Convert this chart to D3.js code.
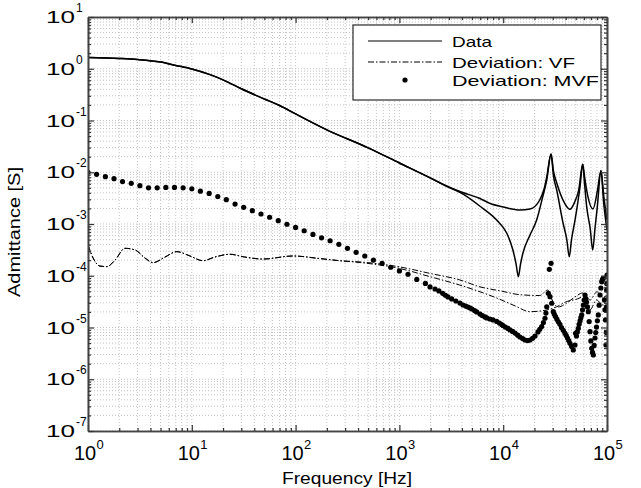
<!DOCTYPE html>
<html>
<head>
<meta charset="utf-8">
<script src="https://cdn.jsdelivr.net/npm/d3@7"></script>
<style>
body { margin: 0; background: #fff; }
text { font-family: "Liberation Sans", Arial, sans-serif; fill: #000; }
</style>
</head>
<body>
<div id="chart"></div>
<script>
// Data curves [frequency Hz, admittance S]
const dataA = [[1,1.65],[2,1.58],[3,1.51],[5,1.35],[7,1.16],[10,0.99],[15,0.77],[20,0.61],[30,0.41],[50,0.26],[70,0.195],[100,0.134],[200,0.066],[500,0.0296],[1000,0.0151],[2000,0.0077],[3000,0.0052],[4000,0.0041],[5980,0.00311],[7400,0.00251],[10500,0.00208],[14500,0.00187],[18100,0.00195],[22500,0.00291],[24800,0.0048],[26300,0.0082],[28900,0.0225],[30500,0.0105],[32800,0.0062],[37700,0.0029],[44000,0.00192],[49000,0.0027],[53400,0.0045],[58300,0.0143],[61000,0.0078],[63700,0.0045],[73300,0.00195],[81000,0.0045],[87500,0.0107],[93000,0.0035],[100000,0.00119]];
const dataB = [[1,1.65],[2,1.58],[3,1.51],[5,1.35],[7,1.16],[10,0.99],[15,0.77],[20,0.61],[30,0.41],[50,0.26],[70,0.195],[100,0.134],[200,0.066],[500,0.0296],[1000,0.0151],[2000,0.0077],[3000,0.0051],[4000,0.0039],[5980,0.0022],[8650,0.00119],[10800,0.00067],[12400,0.000315],[13300,0.00017],[14000,0.000096],[14700,0.00017],[15500,0.000275],[18100,0.00061],[21000,0.00119],[23600,0.0029],[26300,0.0071],[28900,0.0225],[30500,0.0085],[32800,0.0045],[37700,0.00105],[41000,0.0005],[43300,0.000233],[45500,0.0005],[49200,0.00119],[55000,0.0053],[58300,0.0143],[61000,0.0055],[63700,0.00216],[69000,0.0008],[72800,0.000315],[76500,0.0008],[80700,0.00216],[87500,0.0107],[93000,0.0025],[100000,0.00077]];

// Deviation of vector fitting (two elements)
const vfLow = [[1,3.93e-4],[1.12,2.2e-4],[1.3,1.54e-4],[1.52,1.5e-4],[1.82,2.0e-4],[2.27,3.39e-4],[2.84,3.15e-4],[3.54,2.2e-4],[4.23,1.79e-4],[5.52,2.3e-4],[7.15,2.92e-4],[9.6,2.41e-4],[12.8,1.95e-4],[16.7,2.3e-4],[23.3,2.6e-4],[32.3,2.3e-4],[48.5,2.1e-4],[94,2.41e-4],[171,2.15e-4],[267,1.95e-4]];
const vfHighA = [[417,1.85e-4],[1010,1.48e-4],[1970,1.11e-4],[3820,8.3e-5],[5980,6.1e-5],[9400,5.1e-5],[14500,4.3e-5],[22500,4.15e-5],[26900,5.3e-5],[29600,3.4e-5],[33900,2.49e-5],[39700,2.85e-5],[49200,3.9e-5],[58700,4.65e-5],[68800,3.4e-5],[80000,4.9e-5],[92000,3.7e-5],[100000,4.4e-5]];
const vfHighB = [[417,1.8e-4],[1010,1.38e-4],[1970,9.6e-5],[3820,6.6e-5],[5980,4.9e-5],[8700,3.7e-5],[13100,2.6e-5],[18100,2.02e-5],[26300,2.18e-5],[32800,2.52e-5],[39700,3.1e-5],[51600,3.55e-5],[58700,3.9e-5],[68800,2.2e-5],[79000,3.4e-5],[92000,2.72e-5],[100000,4.1e-5]];

// Deviation of modified vector fitting (markers)
const mvfDev = [[1,1.0e-2],[1.21,9.1e-3],[1.47,8.2e-3],[1.78,7.5e-3],[2.15,6.6e-3],[2.61,6.1e-3],[3.16,5.5e-3],[3.83,5.0e-3],[4.64,5.0e-3],[5.62,5.1e-3],[6.81,5.1e-3],[8.25,5.0e-3],[10,4.8e-3],[12.1,4.3e-3],[14.7,3.9e-3],[17.8,3.4e-3],[21.5,2.95e-3],[26.1,2.43e-3],[31.6,2.1e-3],[38.3,1.81e-3],[46.4,1.56e-3],[56.2,1.35e-3],[68.1,1.16e-3],[82.5,9.9e-4],[100,8.6e-4],[121,7.4e-4],[147,6.3e-4],[178,5.4e-4],[215,4.75e-4],[261,4.05e-4],[316,3.39e-4],[383,2.84e-4],[464,2.41e-4],[562,2.01e-4],[681,1.74e-4],[825,1.46e-4],[1000,1.24e-4],[1210,1.07e-4],[1470,8.5e-5],[1780,7.1e-5],
  [1972,6.07e-5],[2204,5.55e-5],[2400,5.1e-5],[2612,4.58e-5],[2780,4.2e-5],[2938,3.89e-5],[3190,3.56e-5],[3500,3.25e-5],[3837,2.97e-5],[4102,2.72e-5],[4350,2.6e-5],[4584,2.49e-5],[4800,2.38e-5],[5004,2.28e-5],[5300,2.12e-5],[5554,2.0e-5],[5975,1.82e-5],[6300,1.7e-5],[6677,1.6e-5],[6936,1.53e-5],[7450,1.46e-5],[7974,1.4e-5],[8658,1.31e-5],[9200,1.22e-5],[9676,1.14e-5],[9956,1.09e-5],[10500,1.02e-5],[11120,9.6e-6],[11640,8.95e-6],[12300,8.4e-6],[13000,7.8e-6],[13800,7.1e-6],[14520,6.55e-6],[15400,6.1e-6],[16230,5.73e-6],[17200,5.6e-6],[18130,5.73e-6],[19200,6.2e-6],[20250,6.85e-6],[21620,8.2e-6],[22500,9.2e-6],[23480,1.04e-5],[24400,1.25e-5],[25280,1.51e-5],[25800,1.9e-5],[26260,2.52e-5],[27210,4.58e-5],[27820,1.33e-4],[28260,3.94e-5],[28910,1.74e-4],[29330,2.94e-5],[30390,2.02e-5],[31100,1.8e-5],[31910,1.63e-5],[32900,1.45e-5],[33960,1.29e-5],[35200,1.15e-5],[36460,1.0e-5],[37900,8.8e-6],[39390,7.7e-6],[40500,7.0e-6],[41610,6.27e-6],[42800,5.6e-6],[44030,4.95e-6],[45700,4.3e-6],[47340,3.68e-6],[49150,4.59e-6],[49800,7.7e-6],[50830,6.85e-6],[51800,8.2e-6],[52940,9.65e-6],[53900,1.15e-5],[54980,1.34e-5],[56000,1.55e-5],[57060,1.75e-5],[58100,2.2e-5],[59120,2.72e-5],[60200,3.4e-5],[61400,4.25e-5],[62500,3.6e-5],[63500,3.11e-5],[64800,2.5e-5],[66070,2.02e-5],[67300,1.3e-5],[68580,8.3e-6],[69900,5.5e-6],[71240,3.96e-6],[72500,3.3e-6],[73850,2.94e-6],[75200,4.5e-6],[76610,6.27e-6],[77900,8e-6],[79190,1.02e-5],[80800,1.35e-5],[82430,1.75e-5],[84000,2.7e-5],[85650,4.25e-5],[87300,5.8e-5],[88960,7.67e-5],[90500,8.5e-5],[92110,8.93e-5],[94560,3.4e-5],[95600,2.2e-5],[96730,1.4e-5],[97770,4.6e-6],[98500,8e-6],[98900,2.5e-5],[99300,5.3e-5],[99600,7e-5],[100000,1.03e-4]];

const legendItems = ["Data", "Deviation: VF", "Deviation: MVF"];

const W = 641, H = 488;
const x = d3.scaleLog().domain([1, 1e5]).range([88, 607]);
const y = d3.scaleLog().domain([1e-7, 10]).range([431, 17]);
const isMajor = d => Math.abs(Math.log10(d) - Math.round(Math.log10(d))) < 1e-6;

const svg = d3.select("#chart").append("svg")
    .attr("width", W)
    .attr("height", H);

// grid lines, dotted
const grid = svg.append("g").attr("stroke", "#c4c4c4").attr("stroke-dasharray", "1,2").attr("stroke-width", 1);
grid.selectAll(".gx").data(x.ticks()).enter().append("line")
    .attr("x1", d => x(d)).attr("x2", d => x(d))
    .attr("y1", 17).attr("y2", 431);
grid.selectAll(".gy").data(y.ticks()).enter().append("line")
    .attr("y1", d => y(d)).attr("y2", d => y(d))
    .attr("x1", 88).attr("x2", 607);

svg.append("clipPath").attr("id", "clip").append("rect")
    .attr("x", 88).attr("y", 17).attr("width", 519).attr("height", 414);
const plot = svg.append("g").attr("clip-path", "url(#clip)");

const line = d3.line().x(d => x(d[0])).y(d => y(d[1])).curve(d3.curveMonotoneX);

[dataA, dataB].forEach(s => {
    plot.append("path").datum(s)
        .attr("d", line).attr("fill", "none")
        .attr("stroke", "#000").attr("stroke-width", 1.5);
});

[vfLow.concat(vfHighA), vfLow.concat(vfHighB)].forEach(s => {
    plot.append("path").datum(s)
        .attr("d", line).attr("fill", "none")
        .attr("stroke", "#000").attr("stroke-width", 1)
        .attr("stroke-dasharray", "6,2,1.5,2");
});

plot.selectAll(".mvf").data(mvfDev).enter().append("circle")
    .attr("cx", d => x(d[0])).attr("cy", d => y(d[1]))
    .attr("r", 2.6).attr("fill", "#000");

// axes on all four sides, ticks pointing in
function drawAxis(axisFn, scale, tr) {
    const major = scale.ticks().filter(isMajor);
    const minor = scale.ticks().filter(d => !isMajor(d));
    [[major, -6], [minor, -3]].forEach(([vals, len]) => {
        const a = svg.append("g").attr("transform", tr)
            .call(axisFn(scale).tickValues(vals).tickSizeInner(len).tickSizeOuter(0).tickFormat(""));
        a.selectAll("line").attr("stroke", "#333").attr("stroke-width", 1.2);
        a.select(".domain").attr("stroke", "#444").attr("stroke-width", 1.6);
    });
}
drawAxis(d3.axisBottom, x, "translate(0,431)");
drawAxis(d3.axisTop, x, "translate(0,17)");
drawAxis(d3.axisLeft, y, "translate(88,0)");
drawAxis(d3.axisRight, y, "translate(607,0)");

// x tick labels 10^n
x.ticks().filter(isMajor).forEach(d => {
    const e = Math.round(Math.log10(d));
    svg.append("text").attr("x", x(d) - 3).attr("y", 460)
        .attr("text-anchor", "middle").attr("font-size", 20).text("10");
    svg.append("text").attr("x", x(d) + 8.5).attr("y", 449)
        .attr("text-anchor", "start").attr("font-size", 13).text(e);
});

// y tick labels 10^n
y.ticks().filter(isMajor).forEach(d => {
    const e = Math.round(Math.log10(d));
    svg.append("text").attr("x", 46).attr("y", y(d) + 6)
        .attr("font-size", 17).attr("textLength", 29).attr("lengthAdjust", "spacingAndGlyphs").text("10");
    svg.append("text").attr("x", 76).attr("y", y(d) - 5)
        .attr("font-size", 12).text(e < 0 ? "-" + (-e) : e);
});

// axis titles
svg.append("text").attr("x", 347).attr("y", 484).attr("text-anchor", "middle")
    .attr("font-size", 16).attr("textLength", 130).attr("lengthAdjust", "spacingAndGlyphs")
    .text("Frequency [Hz]");
svg.append("text").attr("transform", "translate(20,232) rotate(-90)").attr("text-anchor", "middle")
    .attr("font-size", 16).attr("textLength", 130).attr("lengthAdjust", "spacingAndGlyphs")
    .text("Admittance [S]");

// legend
const lg = svg.append("g");
lg.append("rect").attr("x", 353).attr("y", 25).attr("width", 248).attr("height", 75)
    .attr("fill", "#fff").attr("stroke", "#000").attr("stroke-width", 1);
const rows = [41, 62, 80];
const textLens = [40, 123, 147];
lg.append("line").attr("x1", 368).attr("x2", 442).attr("y1", rows[0]).attr("y2", rows[0])
    .attr("stroke", "#000").attr("stroke-width", 1.2);
lg.append("line").attr("x1", 368).attr("x2", 442).attr("y1", rows[1]).attr("y2", rows[1])
    .attr("stroke", "#000").attr("stroke-width", 1).attr("stroke-dasharray", "6,2,1.5,2");
lg.append("circle").attr("cx", 405).attr("cy", rows[2]).attr("r", 2.6).attr("fill", "#000");
legendItems.forEach((t, i) => {
    lg.append("text").attr("x", 452).attr("y", rows[i] + 5.5)
        .attr("font-size", 15).attr("textLength", textLens[i]).attr("lengthAdjust", "spacingAndGlyphs")
        .text(t);
});
</script>
</body>
</html>
